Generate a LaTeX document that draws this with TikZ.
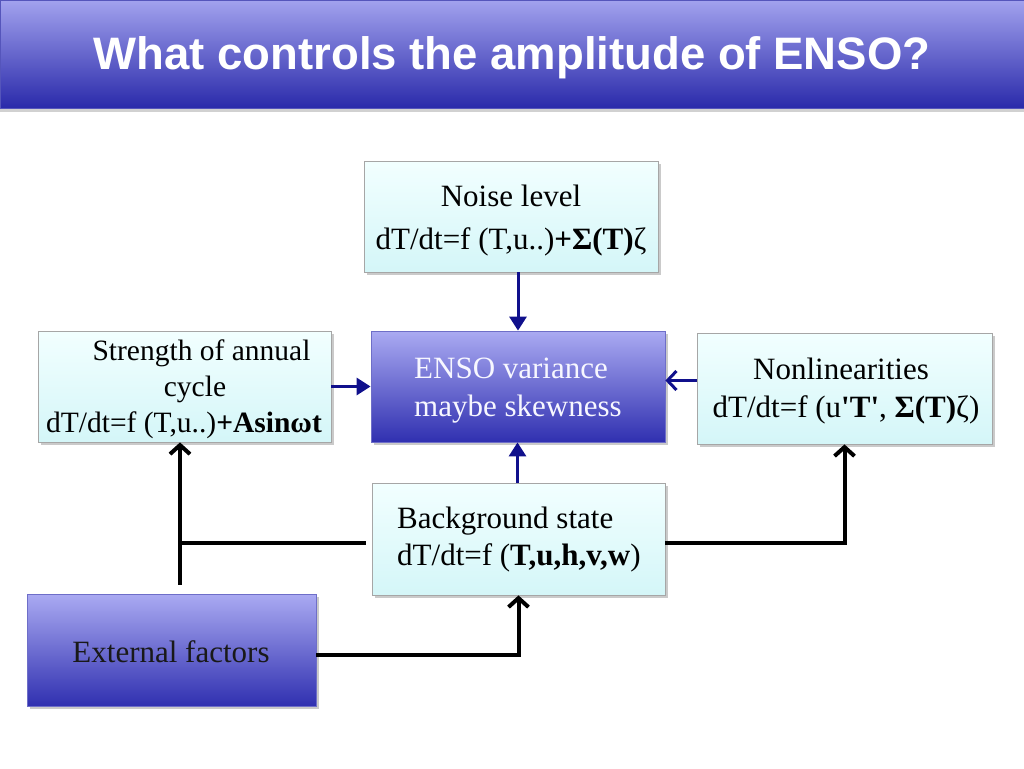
\documentclass[tikz,border=0pt]{standalone}
\usepackage{fontspec}
\setmainfont{Liberation Serif}[Ligatures=TeXOff]
\newfontfamily\titlefont{Liberation Sans}
\usetikzlibrary{arrows.meta,shadows}
\definecolor{navyc}{HTML}{10108C}
\definecolor{cyantop}{HTML}{F2FFFF}
\definecolor{cyanbot}{HTML}{D4F6F8}
\definecolor{purtop}{HTML}{AAAAF2}
\definecolor{purbot}{HTML}{3030B0}
\definecolor{bartop}{HTML}{A2A2EE}
\definecolor{barbot}{HTML}{2A2AAA}
\tikzset{
  boxbase/.style={inner sep=0pt, draw=black!35, line width=0.8pt,
    drop shadow={shadow xshift=3pt, shadow yshift=-3pt, opacity=0.35, fill=black!60}},
  cyanbox/.style={boxbase, top color=cyantop, bottom color=cyanbot},
  purbox/.style={boxbase, top color=purtop, bottom color=purbot, draw=purbot!70},
  txt/.style={inner sep=0pt, font=\fontsize{31}{37}\selectfont},
  navyarrow/.style={draw=navyc, line width=3pt, -{Triangle[length=14pt,width=17pt]}},
  navybarb/.style={draw=navyc, line width=3pt, -{Straight Barb[length=9pt,width=19pt]}},
  blkline/.style={draw=black, line width=4pt},
  blkarrow/.style={draw=black, line width=4pt, -{Straight Barb[length=9pt,width=20pt]}}
}
\begin{document}
\begin{tikzpicture}[x=1pt,y=-1pt]
\useasboundingbox (0,0) rectangle (1024,768);
% title bar
\node[inner sep=0pt, minimum width=1024pt, minimum height=108pt, top color=bartop, bottom color=barbot,
  draw=barbot!80, line width=0.8pt,
  drop shadow={shadow xshift=0pt, shadow yshift=-4pt, opacity=0.3, fill=black!60}] (bar) at (512,54) {};
\node[inner sep=0pt, text=white, font=\titlefont\bfseries\fontsize{45.5}{50}\selectfont, anchor=base] (title) at (512,70) {What controls the amplitude of ENSO?};

% boxes
\node[cyanbox, minimum width=294pt, minimum height=111pt] (noise) at (511,216.5) {};
\node[purbox, minimum width=294pt, minimum height=111pt] (enso) at (518,386.5) {};
\node[cyanbox, minimum width=293pt, minimum height=111pt] (annual) at (184.5,386.5) {};
\node[cyanbox, minimum width=295pt, minimum height=111pt] (nonlin) at (844.5,388.5) {};
\node[cyanbox, minimum width=293pt, minimum height=112pt] (bg) at (518.5,539) {};
\node[purbox, minimum width=289pt, minimum height=112pt] (ext) at (171.5,650) {};

% texts
\node[txt, align=center] (noiset) at (511,221) {Noise level\\[6pt]dT/dt=f (T,u..)\textbf{+Σ(T)}ζ};
\node[txt, align=left, text=white!97!blue, anchor=west] (ensot) at (414,391) {ENSO variance\\[1pt]maybe skewness};
\node[txt, align=center, font=\fontsize{29.5}{36}\selectfont] (annualt) at (184,389) {\hspace*{35pt}Strength of annual\\\hspace*{22pt}cycle\\dT/dt=f (T,u..)\textbf{+Asinωt}};
\node[txt, align=center] (nonlint) at (846,391) {\hspace*{-10pt}Nonlinearities\\[1pt]dT/dt=f (u\textbf{'T'}, \textbf{Σ(T)}ζ)};
\node[txt, anchor=west, align=left] (bgt) at (397,540) {Background state\\[0pt]dT/dt=f (\textbf{T,u,h,v,w})};
\node[txt, text=black!90] (extt) at (171,652) {External factors};

% navy arrows
\draw[navyarrow] (enso.north |- noise.south) -- (enso.north);
\draw[navyarrow] (annual.east) -- (annual.east -| enso.west);
\coordinate (nlw) at ([yshift=8pt]nonlin.west);
\draw[navybarb] (nlw) -- (nlw -| enso.east);
\coordinate (bgn) at ([xshift=-1pt]bg.north);
\draw[navyarrow] (bgn) -- (bgn |- enso.south);

% black connectors
\coordinate (jn) at (180,543);
\coordinate (jr) at (845,543);
\coordinate (bgw) at ([xshift=-6pt]bg.west);
\coordinate (extup) at ([yshift=9pt]ext.north);
\draw[blkline] (bgw |- jn) -- (jn);
\draw[blkarrow] (extup -| jn) -- (annual.south -| jn);
\draw[blkarrow] (bg.east |- jr) -| (nonlin.south);
\coordinate (exte) at ([yshift=-5pt]ext.east);
\draw[blkarrow] (exte) -| (bg.south);
\end{tikzpicture}
\end{document}
